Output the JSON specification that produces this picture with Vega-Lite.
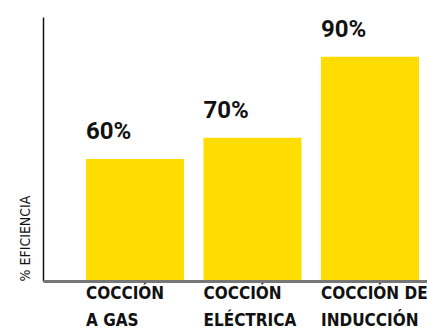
{
  "$schema": "https://vega.github.io/schema/vega-lite/v6.json",
  "width": 384,
  "height": 264,
  "autosize": {"type": "none"},
  "padding": {"left": 43, "top": 17, "right": 0, "bottom": 49},
  "background": "white",
  "config": {"view": {"stroke": null}},
  "data": {
    "values": [
      {"categoria": "COCCIÓN|A GAS", "eficiencia": 60, "altura": 49, "etiqueta": "60%"},
      {"categoria": "COCCIÓN|ELÉCTRICA", "eficiencia": 70, "altura": 57.5, "etiqueta": "70%"},
      {"categoria": "COCCIÓN DE|INDUCCIÓN", "eficiencia": 90, "altura": 90, "etiqueta": "90%"}
    ]
  },
  "encoding": {
    "x": {
      "field": "categoria",
      "type": "nominal",
      "sort": null,
      "scale": {"paddingInner": 0.166, "paddingOuter": 0.217, "align": 0.843},
      "axis": {
        "title": null,
        "domainColor": "#777777",
        "domainWidth": 3,
        "ticks": false,
        "labelAngle": 0,
        "labelAlign": "left",
        "labelOffset": -49,
        "labelBaseline": "top",
        "labelPadding": 4,
        "labelLineHeight": 27,
        "labelLimit": 0,
        "labelExpr": "split(datum.value, '|')",
        "labelFont": "DejaVu Sans Condensed",
        "labelFontWeight": "bold",
        "labelFontSize": 17,
        "labelColor": "#111111",
        "zindex": 1
      }
    },
    "y": {
      "field": "altura",
      "type": "quantitative",
      "scale": {"domain": [0, 106], "nice": false},
      "axis": {
        "title": "% EFICIENCIA",
        "titleFont": "DejaVu Sans Condensed",
        "titleFontWeight": "normal",
        "titleFontSize": 14,
        "titleColor": "#111111",
        "titleAngle": -90,
        "titleAlign": "left",
        "titleBaseline": "middle",
        "titleX": -18,
        "titleY": 264,
        "domainColor": "#111111",
        "domainWidth": 1.5,
        "ticks": false,
        "labels": false,
        "grid": false
      }
    }
  },
  "layer": [
    {"mark": {"type": "bar", "color": "#FFDD00"}},
    {
      "mark": {
        "type": "text",
        "align": "left",
        "baseline": "alphabetic",
        "dy": -20,
        "font": "Roboto",
        "fontWeight": "bold",
        "fontSize": 24,
        "color": "#111111"
      },
      "encoding": {
        "x": {"field": "categoria", "type": "nominal", "sort": null, "bandPosition": 0},
        "text": {"field": "etiqueta"}
      }
    }
  ]
}
